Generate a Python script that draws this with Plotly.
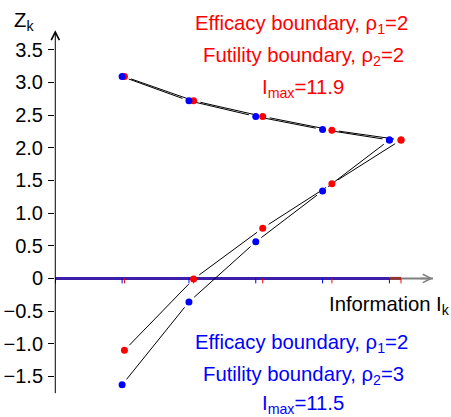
import plotly.graph_objects as go

# ---------------- data ----------------
info_red = [2.38, 4.76, 7.14, 9.52, 11.9]
info_blue = [2.3, 4.6, 6.9, 9.2, 11.5]
eff_red = [3.09, 2.72, 2.48, 2.27, 2.12]
fut_red = [-1.10, -0.01, 0.77, 1.45, 2.12]
eff_blue = [3.09, 2.72, 2.48, 2.28, 2.12]
fut_blue = [-1.63, -0.36, 0.56, 1.34, 2.12]
imax_red = 11.9
imax_blue = 11.5
x_axis_end = 13
y_axis_span = [-1.78, 3.8]
ytick_vals = [-1.5, -1.0, -0.5, 0, 0.5, 1.0, 1.5, 2.0, 2.5, 3.0, 3.5]
ytick_text = ["−1.5", "−1.0", "−0.5", "0", "0.5", "1.0", "1.5", "2.0", "2.5", "3.0", "3.5"]

# ---------------- layout geometry ----------------
W, H = 451, 417
ML = 55
XR = [-0.01, 13.62]
YR = [-2.122, 4.263]
SX = (W - ML) / (XR[1] - XR[0])
SY = H / (YR[1] - YR[0])

RED = "#FF0000"
BLUE = "#0000FF"
FONT = "Liberation Sans, Arial, sans-serif"


def gapped(xs, ys, gap_px=7.0):
    X, Y = [], []
    for i in range(len(xs) - 1):
        x0, y0, x1, y1 = xs[i], ys[i], xs[i + 1], ys[i + 1]
        dx = (x1 - x0) * SX
        dy = (y1 - y0) * SY
        d = (dx * dx + dy * dy) ** 0.5
        if d <= 2 * gap_px:
            continue
        f = gap_px / d
        X += [x0 + (x1 - x0) * f, x1 - (x1 - x0) * f, None]
        Y += [y0 + (y1 - y0) * f, y1 - (y1 - y0) * f, None]
    return X, Y


def tick_segs(xs, len_px=5.0):
    X, Y = [], []
    for x in xs:
        X += [x, x, None]
        Y += [0, -len_px / SY, None]
    return X, Y


fig = go.Figure()

# gray x axis line
fig.add_trace(go.Scatter(x=[-5 / SX, x_axis_end], y=[0, 0], mode="lines",
                         line=dict(color="#808080", width=2), hoverinfo="skip", showlegend=False))
# colored information lines
fig.add_trace(go.Scatter(x=[info_blue[-1], imax_red], y=[0, 0], mode="lines",
                         line=dict(color="#8B3535", width=3), hoverinfo="skip", showlegend=False))
fig.add_trace(go.Scatter(x=[0, imax_blue], y=[0, 0], mode="lines",
                         line=dict(color="#3B1FA8", width=3), hoverinfo="skip", showlegend=False))
# ticks at information levels
tx, ty = tick_segs([0] + info_red)
fig.add_trace(go.Scatter(x=tx, y=ty, mode="lines", line=dict(color=RED, width=1),
                         hoverinfo="skip", showlegend=False))
tx, ty = tick_segs([0] + info_blue)
fig.add_trace(go.Scatter(x=tx, y=ty, mode="lines", line=dict(color=BLUE, width=1),
                         hoverinfo="skip", showlegend=False))

# boundary lines (type "b" style, gaps around points)
for xs, ys in [(info_red, eff_red), (info_blue, eff_blue), (info_red, fut_red), (info_blue, fut_blue)]:
    gx, gy = gapped(xs, ys)
    fig.add_trace(go.Scatter(x=gx, y=gy, mode="lines", line=dict(color="black", width=1),
                             hoverinfo="skip", showlegend=False))

# points
fig.add_trace(go.Scatter(x=info_red + info_red, y=eff_red + fut_red, mode="markers",
                         marker=dict(color=RED, size=7, line=dict(width=0)), showlegend=False))
fig.add_trace(go.Scatter(x=info_blue + info_blue, y=eff_blue + fut_blue, mode="markers",
                         marker=dict(color=BLUE, size=7, line=dict(width=0)), showlegend=False))


def px2paper(px):
    return (px - ML) / (W - ML)


def py2paper(py):
    return 1 - py / H


annotations = []
# y axis with arrow
annotations.append(dict(x=0, y=y_axis_span[1], ax=0, ay=y_axis_span[0], xref="x", yref="y",
                        axref="x", ayref="y", showarrow=True, arrowhead=5, arrowsize=1.6,
                        arrowwidth=1, arrowcolor="black", text=""))
# x axis arrow head
annotations.append(dict(x=x_axis_end, y=0, ax=x_axis_end - 0.5, ay=0, xref="x", yref="y",
                        axref="x", ayref="y", showarrow=True, arrowhead=5, arrowsize=1.1,
                        arrowwidth=1.5, arrowcolor="#808080", text=""))

texts = [
    ("Efficacy boundary, ρ<sub>1</sub>=2", 301.5, 24.5, RED),
    ("Futility boundary, ρ<sub>2</sub>=2", 303, 56.7, RED),
    ("I<sub>max</sub>=11.9", 303, 88, RED),
    ("Efficacy boundary, ρ<sub>1</sub>=2", 301.5, 343.3, BLUE),
    ("Futility boundary, ρ<sub>2</sub>=3", 303, 375.3, BLUE),
    ("I<sub>max</sub>=11.5", 303, 404.5, BLUE),
    ("Information I<sub>k</sub>", 389, 305.3, "black"),
    ("Z<sub>k</sub>", 24, 21.5, "black"),
]
for t, px, py, col in texts:
    annotations.append(dict(x=px2paper(px), y=py2paper(py), xref="paper", yref="paper", text=t,
                            showarrow=False, xanchor="center", yanchor="middle",
                            font=dict(family=FONT, size=20.3, color=col)))

fig.update_layout(
    width=W, height=H,
    margin=dict(l=ML, r=0, t=0, b=0, pad=0),
    paper_bgcolor="white", plot_bgcolor="white",
    showlegend=False,
    annotations=annotations,
    xaxis=dict(range=XR, visible=False, fixedrange=True),
    yaxis=dict(range=YR, showgrid=False, zeroline=False, showline=False,
               tickmode="array", tickvals=ytick_vals, ticktext=ytick_text,
               ticks="outside", ticklen=6, tickwidth=1, tickcolor="black",
               ticklabelstandoff=1,
               tickfont=dict(family=FONT, size=20, color="black"), fixedrange=True),
)

fig.write_html("out.html")
